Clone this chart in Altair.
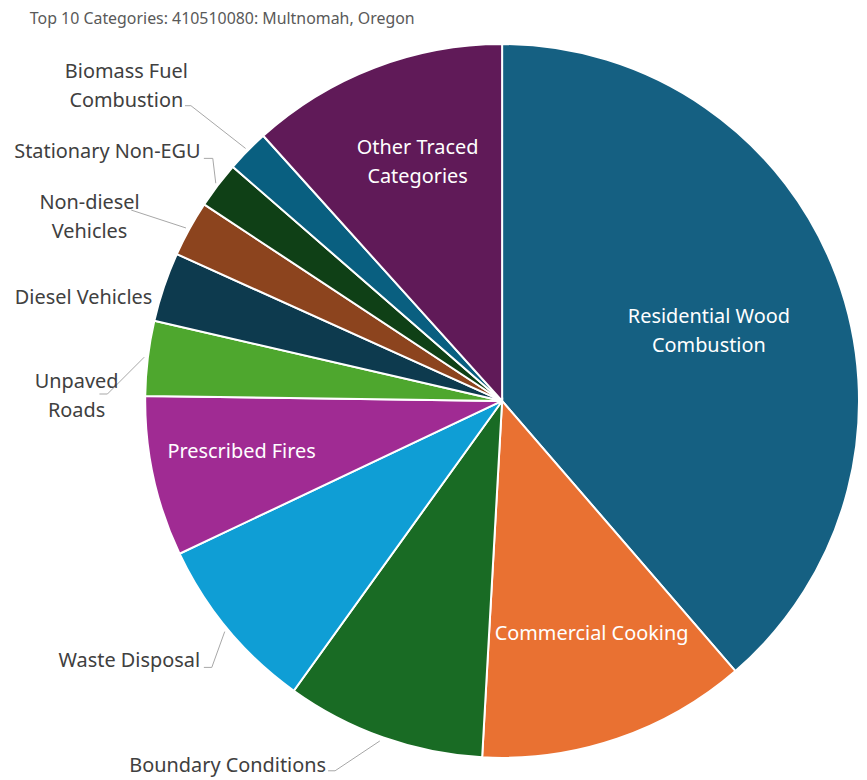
import altair as alt
import pandas as pd

# ---- data ----
categories = [
    "Residential Wood Combustion", "Commercial Cooking", "Boundary Conditions",
    "Waste Disposal", "Prescribed Fires", "Unpaved Roads", "Diesel Vehicles",
    "Non-diesel Vehicles", "Stationary Non-EGU", "Biomass Fuel Combustion",
    "Other Traced Categories",
]
shares = [38.66, 12.23, 9.03, 8.04, 7.26, 3.39, 3.14, 2.53, 2.11, 1.94, 11.67]
colors = [
    "#156082", "#E97132", "#196B24", "#0F9ED5", "#A02B93", "#4EA72E",
    "#0D3A4E", "#8C441E", "#0F4016", "#095F80", "#601A58",
]
title_text = "Top 10 Categories: 410510080: Multnomah, Oregon"

# ---- layout (pixels in view) ----
CX, CY, R = 497, 393, 359
W, H = 856, 772

df = pd.DataFrame({"cat": categories, "val": shares, "ord": list(range(len(categories)))})

# label layout (y = first line's middle)
label_text = [
    ["Residential Wood", "Combustion"], ["Commercial Cooking"], ["Boundary Conditions"],
    ["Waste Disposal"], ["Prescribed Fires"], ["Unpaved", "Roads"], ["Diesel Vehicles"],
    ["Non-diesel", "Vehicles"], ["Stationary Non-EGU"], ["Biomass Fuel", "Combustion"],
    ["Other Traced", "Categories"],
]
label_x = [705, 587, 221, 122, 235, 69, 76, 82, 100, 119, 412]
label_y = [309, 627, 760, 655, 444, 374, 289, 194, 143, 62, 139]
label_inside = [True, True, False, False, True, False, False, False, False, False, True]

lab = pd.DataFrame({
    "t": label_text, "lx": label_x, "ly": label_y,
    "col": ["white" if i else "#404040" for i in label_inside],
})

# leader line segments (page px -> view px)
seg_pts = [
    [(186, 104), (192, 104), (247, 147)],
    [(205, 157), (214, 157), (217, 182)],
    [(132, 209), (187, 227)],
    [(100, 394), (108, 394), (145, 357)],
    [(205, 669), (213, 669), (226, 633)],
    [(330, 773), (337, 773), (382, 743)],
]
rows = []
for pts in seg_pts:
    for (a, b) in zip(pts[:-1], pts[1:]):
        rows.append({"x": a[0] - 8, "y": a[1] - 8, "x2": b[0] - 8, "y2": b[1] - 8})
segs = pd.DataFrame(rows)

pie = alt.Chart(df).mark_arc(radius=R, stroke="white", strokeWidth=2).encode(
    theta=alt.Theta("val:Q", stack=True),
    order=alt.Order("ord:Q"),
    color=alt.Color("cat:N", scale=alt.Scale(domain=categories, range=colors), legend=None),
    x=alt.value(CX),
    y=alt.value(CY),
)

labels = alt.Chart(lab).mark_text(
    font="Noto Sans", fontSize=20, lineHeight=29, align="center", baseline="middle"
).encode(
    x=alt.X("lx:Q", scale=None),
    y=alt.Y("ly:Q", scale=None),
    text="t",
    color=alt.Color("col:N", scale=None),
)

leaders = alt.Chart(segs).mark_rule(color="#A6A6A6", strokeWidth=1).encode(
    x=alt.X("x:Q", scale=None), y=alt.Y("y:Q", scale=None),
    x2="x2:Q", y2="y2:Q",
)

title = alt.Chart(pd.DataFrame({"t": [title_text]})).mark_text(
    font="Noto Sans", fontSize=16, align="left", baseline="middle", color="#595959"
).encode(x=alt.value(22), y=alt.value(9), text="t")

chart = alt.layer(pie, leaders, labels, title).properties(
    width=W, height=H, padding=0, autosize=alt.AutoSizeParams(type="none")
).configure_view(stroke=None)

chart.save("out.html", embed_options={"renderer": "svg", "actions": False})
